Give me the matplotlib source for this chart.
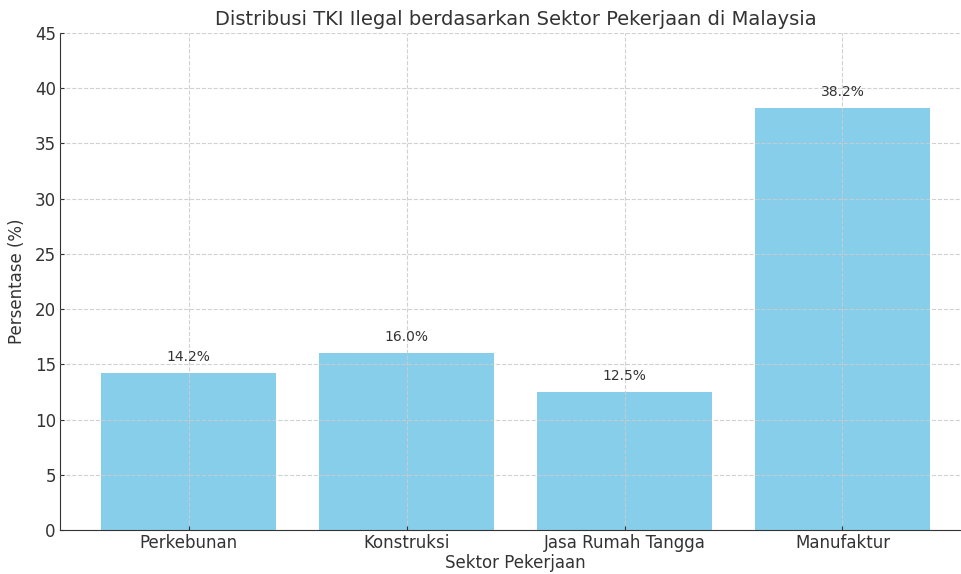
import matplotlib.pyplot as plt
import numpy as np

# data
sektor = ['Perkebunan', 'Konstruksi', 'Jasa Rumah Tangga', 'Manufaktur']
persentase = [14.2, 16.0, 12.5, 38.2]

fig = plt.figure(figsize=(9.62, 5.74), dpi=100)
ax = fig.add_axes([0.0624, 0.0767, 0.947, 0.8658])

bars = ax.bar(sektor, persentase, color='skyblue', width=0.8)

for b, v in zip(bars, persentase):
    ax.text(b.get_x() + b.get_width() / 2, v + 0.8, f'{v:.1f}%',
            ha='center', va='bottom', fontsize=10, color='#333333')

ax.set_ylim(0, 45)
ax.set_yticks(np.arange(0, 46, 5))
ax.grid(True, linestyle='--', color='#cccccc', linewidth=0.8, alpha=0.9)
ax.set_axisbelow(False)

ax.spines['top'].set_visible(False)
ax.spines['right'].set_visible(False)
for s in ['left', 'bottom']:
    ax.spines[s].set_color('#333333')

ax.tick_params(labelsize=12, colors='#333333', direction='in', length=3, pad=3)
ax.set_title('Distribusi TKI Ilegal berdasarkan Sektor Pekerjaan di Malaysia',
             fontsize=14, color='#333333', pad=6)
ax.set_xlabel('Sektor Pekerjaan', fontsize=12, color='#333333', labelpad=1)
ax.set_ylabel('Persentase (%)', fontsize=12, color='#333333', labelpad=6)

plt.savefig('out.png', dpi=100)
